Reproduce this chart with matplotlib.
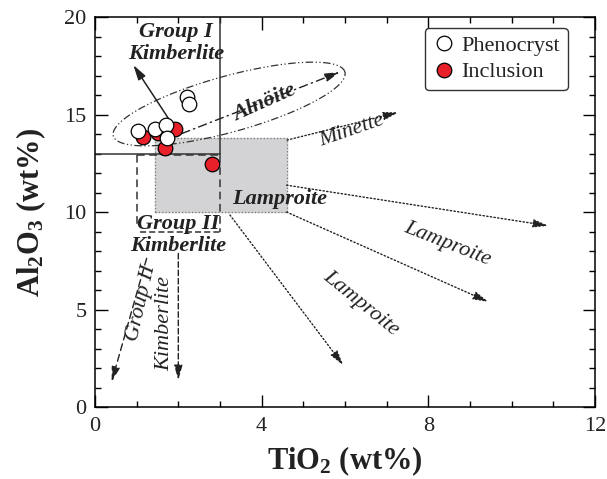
import matplotlib
matplotlib.use('Agg')
import matplotlib.pyplot as plt
import numpy as np
from matplotlib.ticker import MultipleLocator

plt.rcParams['font.family'] = ['Liberation Serif', 'DejaVu Serif']
plt.rcParams['mathtext.fontset'] = 'custom'
plt.rcParams['mathtext.rm'] = 'Liberation Serif'
plt.rcParams['mathtext.bf'] = 'Liberation Serif:bold'

# data
pheno_ti = [1.03, 1.44, 1.70, 1.74, 2.20, 2.25]
pheno_al = [14.15, 14.26, 14.46, 13.78, 15.88, 15.52]
incl_ti = [1.16, 1.52, 1.92, 1.68, 2.82]
incl_al = [13.86, 14.04, 14.24, 13.27, 12.46]

# field outlines
lamp_box_x = [1.44, 4.6]
lamp_box_y = [10.0, 13.8]
grp2_box_x = [1.0, 3.0]
grp2_box_y = [8.99, 12.92]

fig = plt.figure(figsize=(6.07, 4.79), dpi=100)
ax = fig.add_axes([0.1565, 0.150, 0.8235, 0.8145])
ax.set_xlim(0, 12)
ax.set_ylim(0, 20)

# lamproite grey field
ax.fill_between(lamp_box_x, lamp_box_y[0], lamp_box_y[1], color='#d3d3d5', zorder=0)
ax.plot([lamp_box_x[0], lamp_box_x[1], lamp_box_x[1], lamp_box_x[0], lamp_box_x[0]],
        [lamp_box_y[0], lamp_box_y[0], lamp_box_y[1], lamp_box_y[1], lamp_box_y[0]],
        ls=':', color='#777777', lw=0.9, zorder=1)

# group I kimberlite field (solid)
ax.plot([3, 3], [13, 20], color='#333333', lw=1.1)
ax.plot([0, 3], [13, 13], color='#333333', lw=1.1)

# group II kimberlite field (dashed)
dash = (0, (5, 3))
ax.plot(grp2_box_x, [grp2_box_y[1]] * 2, ls=dash, color='#333333', lw=1.1)
ax.plot([grp2_box_x[0]] * 2, [grp2_box_y[1], grp2_box_y[0] + 0.35], ls=dash, color='#333333', lw=1.1)
ax.plot([grp2_box_x[1]] * 2, [grp2_box_y[1], grp2_box_y[0]], ls=dash, color='#333333', lw=1.1)
ax.plot([1.08, grp2_box_x[1]], [grp2_box_y[0]] * 2, ls=(0, (4, 2)), color='#333333', lw=1.1)

# alnoite ellipse (dash-dot-dot)
t = np.linspace(0, 2 * np.pi, 300)
ex = 3.22 + 2.78 * np.cos(t) - 0.178 * np.sin(t)
ey = 15.54 + 1.64 * np.cos(t) + 1.385 * np.sin(t)
ax.plot(ex, ey, ls=(0, (6, 2, 1, 2, 1, 2)), color='#333333', lw=0.9)


def arrow(x0, y0, x1, y1, ls, lw=1.0):
    ax.annotate('', xy=(x1, y1), xytext=(x0, y0),
                arrowprops=dict(arrowstyle='-|>,head_length=0.9,head_width=0.25',
                                linestyle=ls, color='#222222', lw=lw,
                                shrinkA=0, shrinkB=0))


arrow(1.84, 14.55, 0.92, 17.54, '-', 1.1)
arrow(1.68, 13.69, 5.88, 17.18, (0, (6, 3, 1, 3)))
arrow(4.61, 13.69, 7.28, 15.11, ':')
arrow(4.6, 11.38, 10.88, 9.3, ':')
arrow(4.6, 10.0, 9.44, 5.4, ':')
arrow(3.24, 9.85, 5.96, 2.15, ':')
arrow(1.24, 7.63, 0.40, 1.30, (0, (5, 3)))
arrow(2.0, 7.88, 2.0, 1.38, (0, (4, 2)))

# points
ax.plot(incl_ti, incl_al, 'o', ms=10.5, mfc='#e8202a', mec='black', mew=0.9, ls='none', label='Inclusion', zorder=4)
ax.plot(pheno_ti, pheno_al, 'o', ms=10.5, mfc='white', mec='black', mew=0.9, ls='none', label='Phenocryst', zorder=5)

# labels
bi = dict(fontweight='bold', style='italic', fontsize=16, ha='center', va='center', color='#222222')
it = dict(style='italic', fontsize=16, ha='center', va='center', color='#222222')
ax.text(1.94, 19.23, 'Group I', **bi)
ax.text(1.94, 18.1, 'Kimberlite', **bi)
ax.text(4.08, 15.59, 'Alnöite', rotation=24, **bi)
ax.text(4.44, 10.67, 'Lamproite', **bi)
ax.text(2.0, 9.38, 'Group II', **bi)
ax.text(2.0, 8.26, 'Kimberlite', **bi)
ax.text(6.17, 14.15, 'Minette', rotation=19, **it)
ax.text(8.46, 8.36, 'Lamproite', rotation=-21.5, **it)
ax.text(6.38, 5.32, 'Lamproite', rotation=-39, **it)
ax.text(1.12, 5.33, 'Group II', rotation=77, **it)
ax.text(1.68, 4.31, 'Kimberlite', rotation=90, **it)

handles, labels = ax.get_legend_handles_labels()
leg = ax.legend(handles[::-1], labels[::-1], loc='upper right', fontsize=16,
                bbox_to_anchor=(0.946, 0.972), borderaxespad=0,
                frameon=True, fancybox=True, edgecolor='#333333',
                handletextpad=0.3, handlelength=1.0,
                borderpad=0.35, labelspacing=0.25, framealpha=1)
leg.get_frame().set_linewidth(1.0)
for txt in leg.get_texts():
    txt.set_color('#222222')

ax.xaxis.set_major_locator(MultipleLocator(4))
ax.xaxis.set_minor_locator(MultipleLocator(1))
ax.yaxis.set_major_locator(MultipleLocator(5))
ax.yaxis.set_minor_locator(MultipleLocator(1))
ax.tick_params(which='both', direction='in', top=True, right=True, labelsize=16,
               labelcolor='#222222')
ax.tick_params(axis='x', which='major', pad=7)
ax.tick_params(axis='y', which='major', pad=6)
ax.tick_params(which='major', length=9, width=1)
ax.tick_params(which='minor', length=4.5, width=1)
for s in ax.spines.values():
    s.set_linewidth(1.1)

ax.set_xlabel('TiO$\\mathbf{_2}$ (wt%)', fontsize=22, fontweight='bold', labelpad=6, color='#222222')
ax.set_ylabel('Al$\\mathbf{_2}$O$\\mathbf{_3}$ (wt%)', fontsize=22, fontweight='bold', labelpad=12, color='#222222')

fig.savefig('out.png', dpi=100)
